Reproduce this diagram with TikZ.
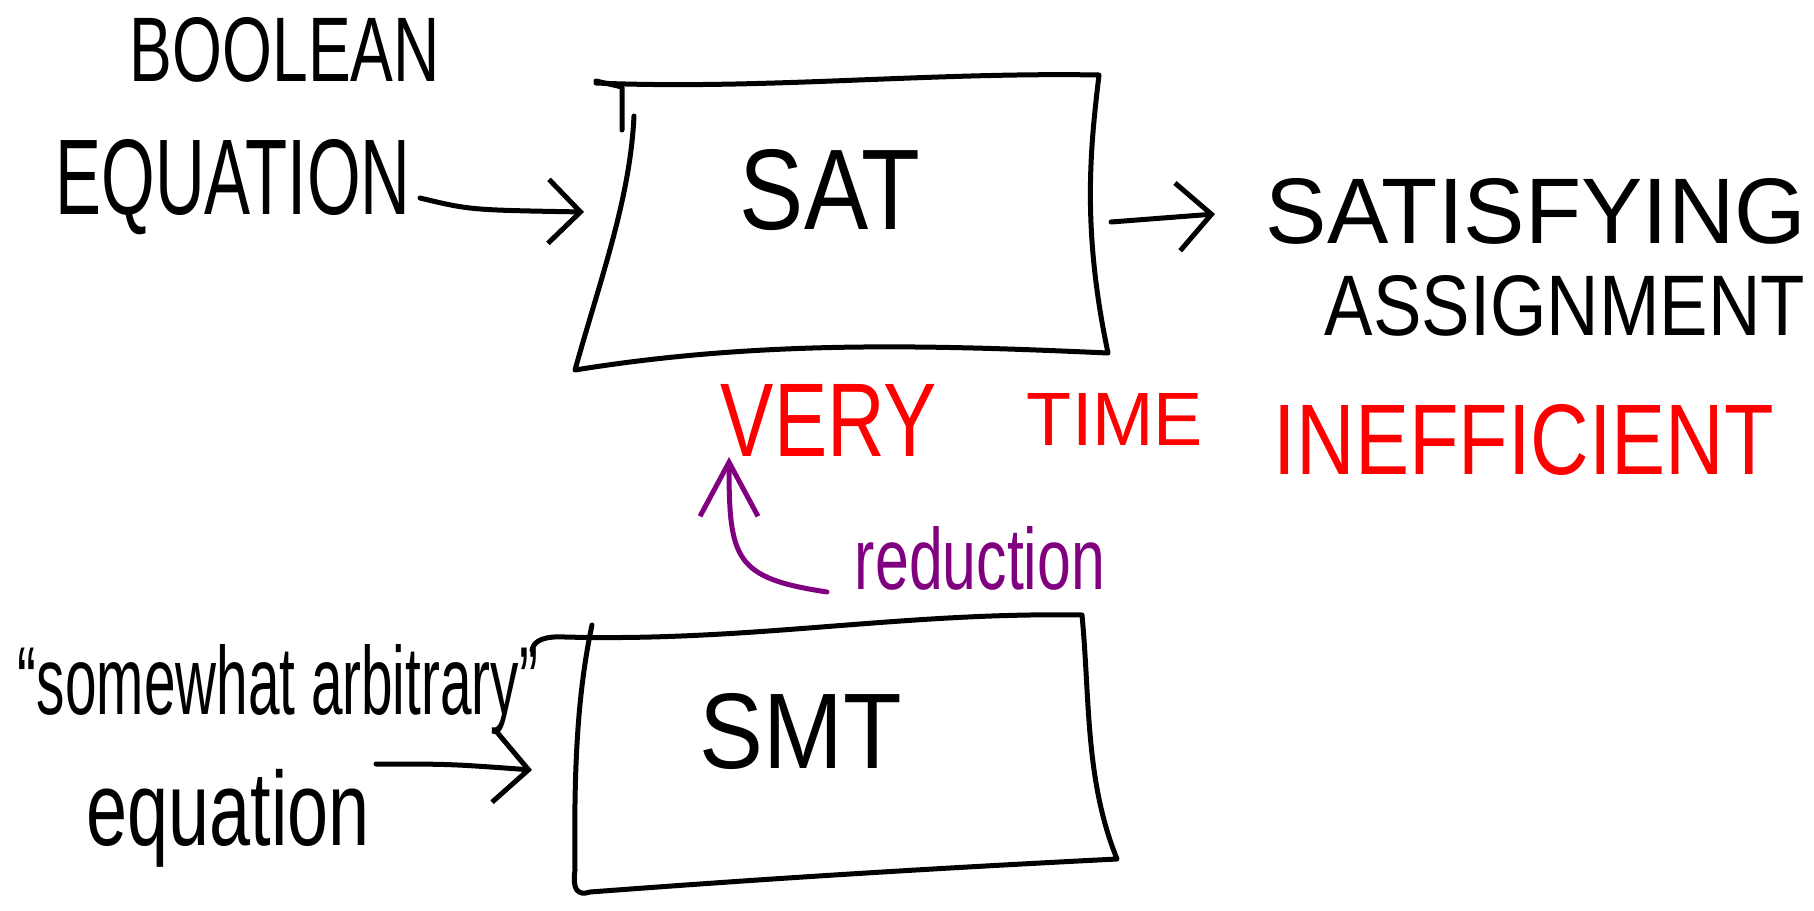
\documentclass[tikz,border=0pt]{standalone}
\usepackage{fontspec}
\setmainfont{Liberation Sans}
\usetikzlibrary{arrows.meta}
\definecolor{inkred}{RGB}{255,0,0}
\definecolor{inkpurple}{RGB}{128,0,128}
% fit a text into a given width and height
\newcommand\fitw[3]{\resizebox{#1}{#2}{#3}}
\newcommand\fitt[3]{\resizebox*{#1}{#2}{#3}}
\begin{document}
\begin{tikzpicture}[x=1pt,y=-1pt,
  ink/.style={line width=5pt,line cap=round,line join=round},
  lbl/.style={inner sep=0pt,anchor=center},
  barb/.style 2 args={-{Straight Barb[length=#1,width=#2,line width=5pt]}},
]
\useasboundingbox (0,0) rectangle (1814,910);

% ---- texts ----
\node[lbl] (bool) at (285,50)  {\fitw{310pt}{64pt}{BOOLEAN}};
\node[lbl] (eqn)  at (233,187) {\fitw{355pt}{75pt}{EQUATION}};
\node[lbl] (sat)  at (830,190) {\fitw{180pt}{80pt}{SAT}};
\node[lbl] (satis) at (1536,211) {\fitw{540pt}{65pt}{SATISFYING}};
\node[lbl] (assign) at (1565,306) {\fitw{480pt}{60pt}{ASSIGNMENT}};
\node[lbl,text=inkred] (very) at (829,420) {\fitw{216pt}{72pt}{VERY}};
\node[lbl,text=inkred] (time) at (1115,419) {\fitw{176pt}{52pt}{TIME}};
\node[lbl,text=inkred] (ineff) at (1524,440) {\fitw{500pt}{70pt}{INEFFICIENT}};
\node[lbl,text=inkpurple] (red) at (980,558) {\fitw{250pt}{63pt}{reduction}};
\node[lbl] (smt)  at (801,731) {\fitw{202pt}{75pt}{SMT}};
\node[lbl] (arb)  at (278,690) {\fitt{520pt}{90pt}{“somewhat arbitrary”}};
\node[lbl] (eqs)  at (228,818) {\fitt{283pt}{98pt}{equation}};

% ---- SAT box, hand drawn ----
\draw[ink] (596,83) .. controls (760,90) and (930,72) .. (1099,75)
  .. controls (1090,150) and (1082,230) .. (1108,353)
  .. controls (930,345) and (760,340) .. (575,370)
  .. controls (600,280) and (630,200) .. (634,116);
\draw[ink] (596,81) -- (622,87) -- (622,130);

% ---- SMT box, hand drawn ----
\draw[ink] (532,650) .. controls (534,640) and (545,636) .. (565,637)
  .. controls (750,642) and (900,612) .. (1082,615)
  .. controls (1090,700) and (1085,780) .. (1117,859)
  .. controls (900,870) and (750,880) .. (590,892)
  .. controls (578,896) and (572,890) .. (575,870)
  .. controls (574,780) and (576,700) .. (592,625);

% ---- arrow end points ----
\coordinate (eqnout) at (420,198);
\coordinate (satin)  at (584,212);
\coordinate (satout) at (1111,222);
\coordinate (resin)  at (1215,214);
\coordinate (redout) at (827,592);
\coordinate (verin)  at (729,457);
\coordinate (eqsout) at (376,764);
\coordinate (smtin)  at (532,770);

% ---- connectors ----
\draw[ink,barb={32pt}{64pt}] (eqnout) .. controls (470,210) .. (satin);
\draw[ink,barb={34pt}{68pt}] (satout) -- (resin);
\draw[ink,barb={34pt}{70pt}] (eqsout) .. controls (450,764) .. (smtin);
\draw[ink,inkpurple,barb={54pt}{58pt}] (redout) .. controls (735,578) and (729,560) .. (verin);
\end{tikzpicture}
\end{document}
